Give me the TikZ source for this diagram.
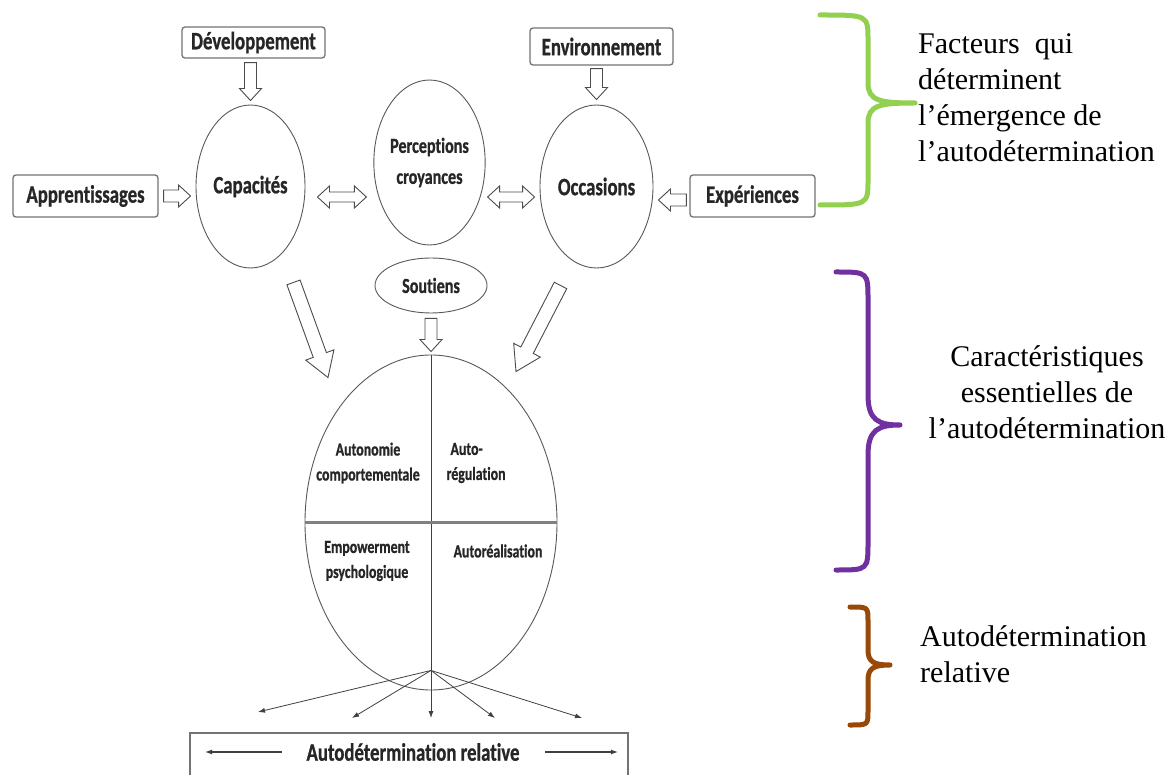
\documentclass[tikz,border=0pt]{standalone}
\usepackage{fontspec}
\setmainfont{Liberation Serif}
\newfontfamily\dfont{Carlito}[FakeStretch=0.75, Ligatures=NoCommon, BoldFeatures={FakeBold=0.8}]
\usetikzlibrary{shapes.geometric,calc,arrows.meta}
\definecolor{bgreen}{HTML}{92D050}
\definecolor{bpurple}{HTML}{7030A0}
\definecolor{bbrown}{HTML}{984807}
\tikzset{
  arrsw/.store in=\arrsw, arrhw/.store in=\arrhw, arrhl/.store in=\arrhl,
  arrsw=5pt, arrhw=11pt, arrhl=12pt,
  hollow/.style={draw=black!70, fill=white, line width=0.9pt, line join=miter, to path={
    ($(\tikztostart)!\arrsw!90:(\tikztotarget)$)
    -- ($(\tikztotarget)!\arrhl!(\tikztostart)!\arrsw!-90:(\tikztostart)$)
    -- ($(\tikztotarget)!\arrhl!(\tikztostart)!\arrhw!-90:(\tikztostart)$)
    -- (\tikztotarget)
    -- ($(\tikztotarget)!\arrhl!(\tikztostart)!\arrhw!90:(\tikztostart)$)
    -- ($(\tikztotarget)!\arrhl!(\tikztostart)!\arrsw!90:(\tikztostart)$)
    -- ($(\tikztostart)!\arrsw!-90:(\tikztotarget)$) -- cycle}},
  dhollow/.style={draw=black!70, fill=white, line width=0.9pt, line join=miter, to path={
    (\tikztostart)
    -- ($(\tikztostart)!\arrhl!(\tikztotarget)!\arrhw!90:(\tikztotarget)$)
    -- ($(\tikztostart)!\arrhl!(\tikztotarget)!\arrsw!90:(\tikztotarget)$)
    -- ($(\tikztotarget)!\arrhl!(\tikztostart)!\arrsw!-90:(\tikztostart)$)
    -- ($(\tikztotarget)!\arrhl!(\tikztostart)!\arrhw!-90:(\tikztostart)$)
    -- (\tikztotarget)
    -- ($(\tikztotarget)!\arrhl!(\tikztostart)!\arrhw!90:(\tikztostart)$)
    -- ($(\tikztotarget)!\arrhl!(\tikztostart)!\arrsw!90:(\tikztostart)$)
    -- ($(\tikztostart)!\arrhl!(\tikztotarget)!\arrsw!-90:(\tikztotarget)$)
    -- ($(\tikztostart)!\arrhl!(\tikztotarget)!\arrhw!-90:(\tikztotarget)$)
    -- cycle}},
  lbl/.style={font=\dfont\bfseries\fontsize{25}{28}\selectfont, text=black!85},
  slbl/.style={font=\dfont\bfseries\fontsize{21.5}{31}\selectfont, text=black!85, align=center},
  qlbl/.style={font=\dfont\bfseries\fontsize{18.5}{25}\selectfont, text=black!85},
  el/.style={ellipse, draw=black!65, line width=0.9pt, inner sep=0pt},
  bx/.style={draw=black!55, rounded corners=3pt, line width=1.3pt, inner sep=0pt, lbl},
  thin/.style={draw=black!75, line width=0.8pt, -{Latex[length=7pt,width=5pt]}},
  rt/.style={font=\fontsize{30}{36}\selectfont, text=black, inner sep=0pt},
  brace/.style={line width=5pt, line cap=round, line join=round}
}
\begin{document}
\begin{tikzpicture}[x=1pt,y=-1pt]
\useasboundingbox[fill=white] (0,0) rectangle (1173,775);

% boxes
\node[bx, minimum width=143, minimum height=31] (dev) at (253.5,42.5) {Développement};
\node[bx, minimum width=143, minimum height=37] (env) at (601.5,46.5) {Environnement};
\node[bx, minimum width=145, minimum height=42] (app) at (85.5,196) {Apprentissages};
\node[bx, minimum width=125, minimum height=42] (exp) at (752.5,196) {Expériences};

% ellipses
\node[el, lbl, minimum width=109, minimum height=163] (cap) at (250.5,186.5) {Capacités};
\node[el, slbl, minimum width=109, minimum height=165] (perc) at (429.5,162.5) {Perceptions\\croyances};
\node[el, lbl, minimum width=113, minimum height=163] (occ) at (596.5,186.5) {Occasions};
\node[el, slbl, minimum width=112, minimum height=55] (sout) at (431,285.5) {Soutiens};
\node[el, minimum width=252, minimum height=335] (big) at (431,522.5) {};

% quadrants
\coordinate (hub) at ($(big.south)+(0,-20)$);
\coordinate (t1) at (258,712);
\coordinate (t2) at (352,718);
\coordinate (t3) at (431,718);
\coordinate (t4) at (495,718);
\coordinate (t5) at (582,718);
\draw[thin] (big.north) -- (t3);
\draw[draw=black!50, line width=2.2pt] (big.west) -- (big.east);
\draw[thin] (hub) -- (t1);
\draw[thin] (hub) -- (t2);
\draw[thin] (hub) -- (t4);
\draw[thin] (hub) -- (t5);

\node[qlbl, align=center] (q1) at (368,463) {Autonomie\\comportementale};
\node[qlbl, align=left, anchor=west] (q2) at (443,463) {\hspace*{4pt}Auto-\\régulation};
\node[qlbl, align=center] (q3) at (367,561) {Empowerment\\psychologique};
\node[qlbl] (q4) at (498,551) {Autoréalisation};

% hollow arrows
\draw[hollow, arrsw=6pt] ($(cap.north |- dev.south)+(0,4)$) to ($(cap.north)+(0,-4)$);
\draw[hollow, arrsw=6pt] ($(occ.north |- env.south)+(0,3)$) to ($(occ.north)+(0,-5)$);
\draw[hollow, arrsw=6pt] ($(app.east)+(5,0)$) to ($(cap.west |- app.east)+(-5,0)$);
\draw[hollow, arrsw=6pt] ($(exp.west)+(-3,4)$) to ($(occ.east |- exp.west)+(5,4)$);
\coordinate (ay) at (0,197);
\draw[dhollow, arrsw=5pt] ($(cap.east |- ay)+(12,0)$) to ($(perc.west |- ay)+(-7,0)$);
\draw[dhollow, arrsw=5pt] ($(perc.east |- ay)+(2,0)$) to ($(occ.west |- ay)+(-5,0)$);
\draw[hollow, arrsw=6pt] ($(sout.south)+(0,5)$) to ($(big.north)+(0,-3)$);
\draw[hollow, arrsw=7pt, arrhw=15pt, arrhl=24pt] ($(cap.south)+(43,14)$) to ($(big.north)+(-103,23)$);
\draw[hollow, arrsw=7pt, arrhw=15pt, arrhl=24pt] ($(occ.south)+(-36,17)$) to ($(big.north)+(85,17)$);

% bottom box
\node[draw=black!55, line width=1.6pt, minimum width=438, minimum height=56, inner sep=0pt] (relbox) at (409,761) {};
\node[lbl] (reltxt) at (413,752) {Autodétermination relative};
\coordinate (la1) at (282,752);
\coordinate (la2) at (205,752);
\coordinate (ra1) at (545,752);
\coordinate (ra2) at (618,752);
\draw[thin, line width=1.2pt] (la1) -- (la2);
\draw[thin, line width=1.2pt] (ra1) -- (ra2);

% braces
\draw[brace, draw=bgreen] (820,15) .. controls (868,15) and (868,15) .. (868,40) -- (868,83)
  .. controls (868,101) and (880,103) .. (915,103) .. controls (880,103) and (868,105) .. (868,123)
  -- (868,180) .. controls (868,205) and (868,205) .. (820,205);
\draw[brace, draw=bpurple] (836,272) .. controls (868,272) and (868,272) .. (868,300) -- (868,395)
  .. controls (868,420) and (878,425) .. (900,425) .. controls (878,425) and (868,430) .. (868,455)
  -- (868,542) .. controls (868,570) and (868,570) .. (836,570);
\draw[brace, draw=bbrown] (850,607) .. controls (868,607) and (868,607) .. (868,621) -- (868,650)
  .. controls (868,662) and (874,665) .. (890,665) .. controls (874,665) and (868,668) .. (868,680)
  -- (868,711) .. controls (868,725) and (868,725) .. (850,725);

% right texts
\node[rt, align=left, anchor=west] (t-fac) at (918,98) {Facteurs\ \ qui\\déterminent\\l’émergence de\\l’autodétermination};
\node[rt, align=center] (t-car) at (1047,392) {Caractéristiques\\essentielles de\\l’autodétermination};
\node[rt, align=left, anchor=west] (t-rel) at (920,654) {Autodétermination\\relative};
\end{tikzpicture}
\end{document}
